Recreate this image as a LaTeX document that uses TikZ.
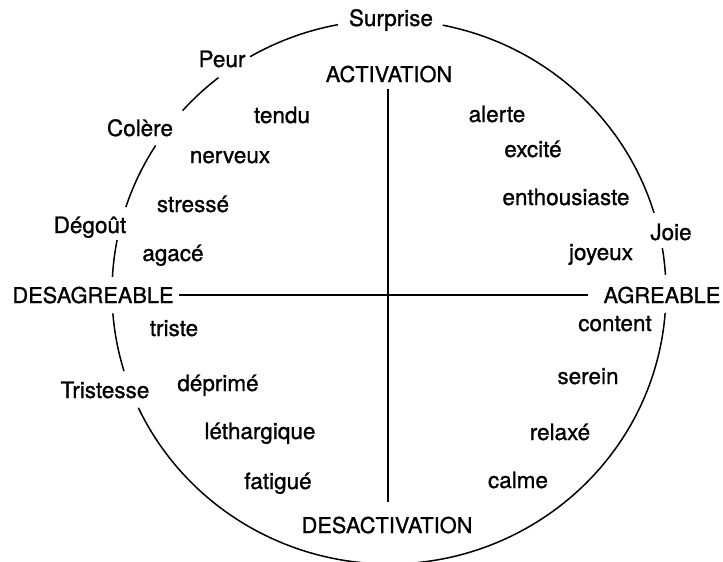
\documentclass[tikz,border=0pt]{standalone}
\usepackage{fontspec}
\setmainfont{TeX Gyre Heros}[BoldFont=TeX Gyre Heros, BoldFeatures={FakeBold=1.0}]
\begin{document}
\begin{tikzpicture}[x=1pt,y=-1pt,
  word/.style={anchor=base,inner sep=0pt,font=\fontsize{22.5}{24}\selectfont\bfseries},
  capw/.style={anchor=base,inner sep=0pt,font=\fontsize{21.8}{23}\selectfont\bfseries},
  ring/.style={line width=1.5pt},
  axisline/.style={line width=1.8pt}]
\useasboundingbox (0,0) rectangle (723,562);
% labels on the circle
\node[word] (sur) at (391,26) {Surprise};
\node[word] (peur) at (222,67) {Peur};
\node[word] (colere) at (140,136) {Colère};
\node[word] (degout) at (90,233) {Dégoût};
\node[word] (joie) at (671,240) {Joie};
\node[word] (tristesse) at (105,398) {Tristesse};
% axes labels
\node[capw] (act) at (389,82) {ACTIVATION};
\node[capw] (desact) at (387,533) {DESACTIVATION};
\node[capw] (desag) at (93,303) {DESAGREABLE};
\node[capw] (agr) at (662,303) {AGREABLE};
% inner words
\node[word] (tendu) at (282,123) {tendu};
\node[word] (alerte) at (497,122) {alerte};
\node[word] (nerveux) at (230,163) {nerveux};
\node[word] (excite) at (533,157) {excité};
\node[word] (enth) at (566,205) {enthousiaste};
\node[word] (stresse) at (193,212) {stressé};
\node[word] (agace) at (173,261) {agacé};
\node[word] (joyeux) at (601,260) {joyeux};
\node[word] (content) at (615,331) {content};
\node[word] (triste) at (174,336) {triste};
\node[word] (serein) at (588,384) {serein};
\node[word] (deprime) at (218,391) {déprimé};
\node[word] (relaxe) at (560,440) {relaxé};
\node[word] (lethar) at (260,439) {léthargique};
\node[word] (calme) at (518,488) {calme};
\node[word] (fatigue) at (278,489) {fatigué};
% axes
\coordinate (vtop) at (act.south -| 388,0);
\coordinate (vbot) at (desact.north -| 388,0);
\draw[axisline,shorten <=6pt,shorten >=15pt] (vtop) -- (vbot);
\draw[axisline,shorten <=5pt,shorten >=15pt] (desag.east) -- (agr.west);
% circle arcs
\coordinate (C) at (389,292);
\foreach \a/\b in {78.8/16.9, 9.3/3.6, -4.4/-154.8, 196.9/184.5, 176.8/169.0, 161.8/147.4, 138.2/128.0, 120.1/100.6}{
  \draw[ring] ([shift={(\a:277pt and 272pt)}]C) arc[start angle=\a, end angle=\b, x radius=277pt, y radius=272pt];
}
\end{tikzpicture}
\end{document}
